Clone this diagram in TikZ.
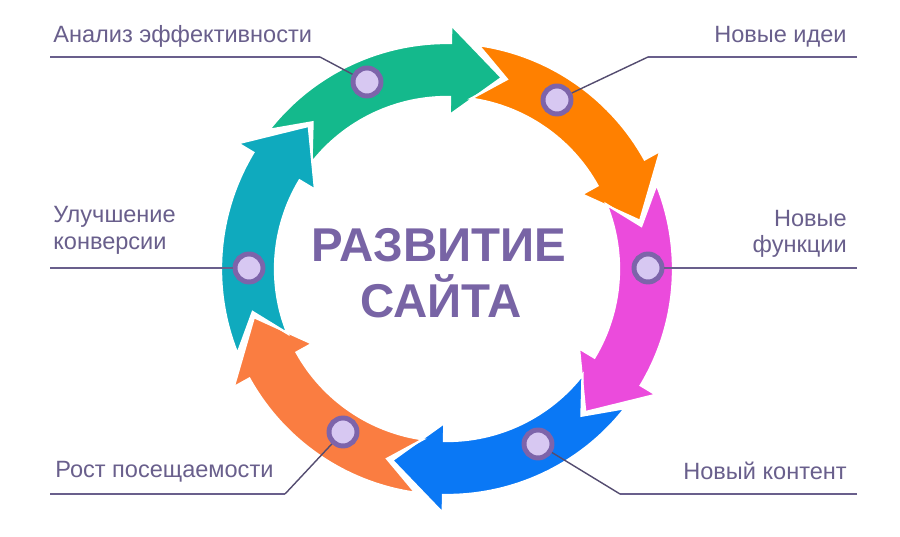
\documentclass[tikz,border=0pt]{standalone}
\usepackage{fontspec}
\setmainfont{Liberation Sans}
\usepackage{tikz}
\usetikzlibrary{calc}
\definecolor{cgreen}{RGB}{20,185,140}
\definecolor{corange}{RGB}{255,128,0}
\definecolor{cpink}{RGB}{235,75,220}
\definecolor{cblue}{RGB}{10,120,245}
\definecolor{cred}{RGB}{250,125,65}
\definecolor{cteal}{RGB}{15,170,190}
\definecolor{ring}{RGB}{125,100,170}
\definecolor{lilac}{RGB}{215,200,242}
\definecolor{labelgrey}{RGB}{105,95,140}
\definecolor{rulegrey}{RGB}{105,95,140}
\definecolor{titlepurple}{RGB}{120,100,165}
\tikzset{
	arrowband/.style={draw=white,line width=1.3pt,line join=miter},
	dot/.style={circle,fill=lilac,draw=ring,line width=2.8pt,minimum size=0.56cm,inner sep=0pt},
	label/.style={font=\fontsize{13.4}{16}\selectfont,text=labelgrey,inner sep=0pt},
	title/.style={font=\fontsize{27}{32}\selectfont\bfseries,text=titlepurple,inner sep=0pt},
	rule/.style={draw=rulegrey,line width=1.5pt},
	link/.style={draw=rulegrey!80!black,line width=0.8pt},
}

\begin{document}
\begin{tikzpicture}[x=0.02cm,y=0.02cm]
	\useasboundingbox (0,0) rectangle (900,537);
	\fill[white] (0,0) rectangle (900,537);
	
	% radii of the ring: outer, inner, middle, head outer, head inner
	\def\ro{226}
	\def\ri{172}
	\def\rm{199}
	\def\rh{244}
	\def\rl{154}
	% one curved arrow: #1 colour, #2 angle of its tip
	\def\ringarrow#1#2{%
		\pgfmathsetmacro\baseang{#2+15}
		\pgfmathsetmacro\tailang{#2+68}
		\pgfmathsetmacro\notchang{#2+58.5}
		\filldraw[arrowband,fill=#1] (\tailang:\ro) arc[start angle=\tailang,end angle=\baseang,radius=\ro]
			-- (\baseang:\rh) -- (#2:\rm) -- (\baseang:\rl) -- (\baseang:\ri)
			arc[start angle=\baseang,end angle=\tailang,radius=\ri] -- (\notchang:\rm) -- cycle;
	}
	
	% the six arrows round the centre
	\begin{scope}[shift={(447,268)}]
		\ringarrow{cgreen}{74}
		\ringarrow{corange}{14}
		\ringarrow{cpink}{-46}
		\ringarrow{cblue}{-106}
		\ringarrow{cred}{-166}
		\ringarrow{cteal}{134}
	\end{scope}
	
	% title in the middle
	\node[title,anchor=base] (title1) at (439,275) {РАЗВИТИЕ};
	\node[title,anchor=base] (title2) at (441,219) {САЙТА};
	
	% dots on the arrows
	\node[dot] (analiz) at (367,455) {};
	\node[dot] (idei) at (557,437) {};
	\node[dot] (funk) at (648,269) {};
	\node[dot] (kontent) at (538,93) {};
	\node[dot] (rost) at (343,105) {};
	\node[dot] (konv) at (249,269) {};
	
	% labels
	\node[label,anchor=base west] (lanaliz) at (53,494) {Анализ эффективности};
	\node[label,anchor=base east] (lidei) at (847,494) {Новые идеи};
	\node[label,anchor=base west] (lkonv1) at (53,314) {Улучшение};
	\node[label,anchor=base west] (lkonv2) at (53,287) {конверсии};
	\node[label,anchor=base east] (lfunk1) at (847,310) {Новые};
	\node[label,anchor=base east] (lfunk2) at (847,284) {функции};
	\node[label,anchor=base west] (lrost) at (55,59) {Рост посещаемости};
	\node[label,anchor=base east] (lkontent) at (847,57) {Новый контент};
	
	% lines under the labels
	\coordinate (a1) at (50,480);
	\coordinate (b1) at (320,480);
	\coordinate (a2) at (857,480);
	\coordinate (b2) at (648,480);
	\coordinate (a3) at (50,269);
	\coordinate (a4) at (857,269);
	\coordinate (a5) at (50,43);
	\coordinate (b5) at (285,43);
	\coordinate (a6) at (857,43);
	\coordinate (b6) at (620,43);
	\draw[rule] (a1) -- (b1);
	\draw[link] (b1) -- (analiz);
	\draw[rule] (a2) -- (b2);
	\draw[link] (b2) -- (idei);
	\draw[rule] (a3) -- (konv);
	\draw[rule] (funk) -- (a4);
	\draw[rule] (a5) -- (b5);
	\draw[link] (b5) -- (rost);
	\draw[rule] (a6) -- (b6);
	\draw[link] (b6) -- (kontent);
	
\end{tikzpicture}
\end{document}
